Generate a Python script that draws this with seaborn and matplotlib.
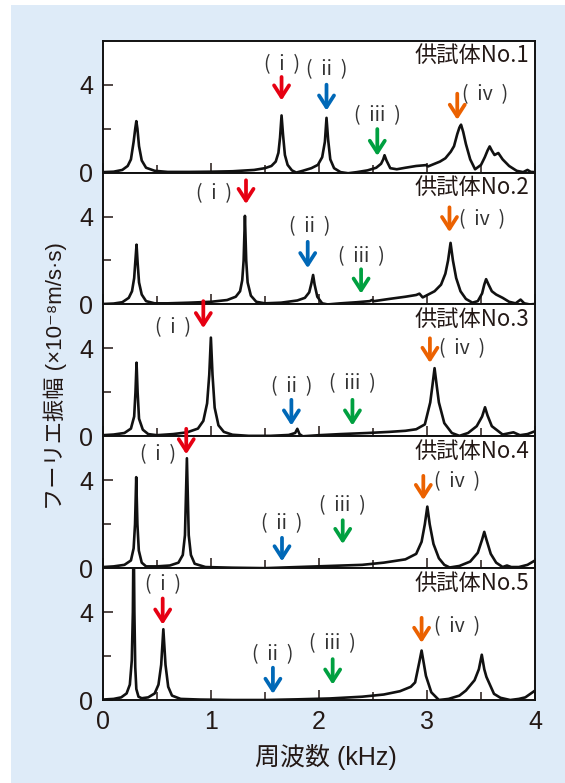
import matplotlib
matplotlib.use("Agg")
import matplotlib.pyplot as plt
from matplotlib.patches import Rectangle
import seaborn as sns
import pandas as pd

# ---------------- data ----------------
specimens = ["供試体No.1", "供試体No.2", "供試体No.3", "供試体No.4", "供試体No.5"]

f1 = [0, 0.10, 0.18, 0.23, 0.26, 0.285, 0.30, 0.31, 0.32, 0.335, 0.36, 0.40, 0.48, 0.6, 0.8, 1.0, 1.2, 1.4,
      1.5, 1.56, 1.60, 1.625, 1.64, 1.654, 1.668, 1.685, 1.71, 1.75, 1.79, 1.85, 1.93, 1.99, 2.03, 2.055, 2.07,
      2.085, 2.105, 2.14, 2.2, 2.27, 2.35, 2.45, 2.53, 2.575, 2.595, 2.607, 2.625, 2.66, 2.72, 2.8, 2.9, 2.97,
      2.99, 3.01, 3.06, 3.12, 3.17, 3.22, 3.25, 3.28, 3.30, 3.315, 3.335, 3.36, 3.40, 3.445, 3.50, 3.535, 3.56,
      3.58, 3.60, 3.625, 3.66, 3.70, 3.76, 3.83, 3.89, 3.93, 3.96, 4.0]
a1 = [0.02, 0.04, 0.12, 0.3, 0.6, 1.4, 2.0, 2.34, 2.0, 1.2, 0.55, 0.22, 0.08, 0.03, 0.03, 0.04, 0.06, 0.12,
      0.2, 0.3, 0.5, 0.9, 1.6, 2.6, 1.7, 0.8, 0.35, 0.1, 0.0, 0.08, 0.2, 0.35, 0.7, 1.4, 2.49,
      1.5, 0.6, 0.2, 0.02, -0.03, 0.02, 0.1, 0.22, 0.4, 0.6, 0.79, 0.55, 0.2, 0.15, 0.22, 0.3, 0.33,
      0.34, 0.28, 0.38, 0.5, 0.65, 0.95, 1.2, 1.75, 2.05, 2.18, 1.85, 1.3, 0.6, 0.15, 0.35, 0.7, 1.0,
      1.19, 1.0, 0.8, 0.89, 0.6, 0.3, 0.08, 0.02, 0.12, 0.03, 0.02]

f2 = [0, 0.1, 0.18, 0.24, 0.27, 0.29, 0.30, 0.312, 0.322, 0.335, 0.36, 0.40, 0.48, 0.6, 0.8, 1.0, 1.15, 1.23,
      1.27, 1.29, 1.303, 1.315, 1.327, 1.34, 1.37, 1.42, 1.5, 1.65, 1.8, 1.87, 1.91, 1.93, 1.946, 1.96, 1.985,
      2.03, 2.08, 2.2, 2.35, 2.47, 2.49, 2.51, 2.65, 2.8, 2.9, 2.93, 2.96, 3.0, 3.07, 3.13, 3.17, 3.195, 3.218,
      3.24, 3.27, 3.31, 3.36, 3.42, 3.47, 3.51, 3.53, 3.547, 3.57, 3.6, 3.64, 3.70, 3.76, 3.82, 3.866, 3.90,
      3.95, 4.0]
a2 = [0.02, 0.04, 0.1, 0.3, 0.6, 1.2, 1.9, 2.72, 1.9, 1.0, 0.45, 0.15, 0.05, 0.05, 0.08, 0.12, 0.2, 0.35,
      0.6, 1.1, 2.0, 4.03, 2.0, 1.0, 0.4, 0.12, 0.05, 0.08, 0.18, 0.3, 0.55, 0.95, 1.34, 0.9, 0.35,
      0.05, 0.0, 0.05, 0.1, 0.15, 0.2, 0.15, 0.25, 0.35, 0.43, 0.49, 0.32, 0.42, 0.6, 0.9, 1.4, 2.0, 2.8,
      2.0, 1.2, 0.6, 0.25, 0.08, 0.15, 0.5, 0.9, 1.15, 0.9, 0.6, 0.45, 0.3, 0.12, 0.05, 0.22, 0.05,
      0.0, 0.02]

f3 = [0, 0.1, 0.2, 0.26, 0.29, 0.302, 0.312, 0.322, 0.335, 0.37, 0.42, 0.5, 0.65, 0.78, 0.88, 0.93, 0.965,
      0.985, 1.0, 1.015, 1.035, 1.07, 1.12, 1.2, 1.35, 1.55, 1.72, 1.78, 1.80, 1.82, 1.85, 2.0, 2.2, 2.45, 2.65,
      2.8, 2.9, 2.98, 3.03, 3.05, 3.07, 3.09, 3.11, 3.16, 3.23, 3.3, 3.38, 3.46, 3.51, 3.537, 3.56, 3.6, 3.7,
      3.8, 3.86, 3.93, 4.0]
a3 = [0.05, 0.08, 0.15, 0.35, 0.9, 2.0, 3.35, 2.0, 0.8, 0.3, 0.1, 0.05, 0.1, 0.18, 0.35, 0.7, 1.5,
      2.8, 4.49, 2.8, 1.3, 0.5, 0.2, 0.07, 0.02, 0.02, 0.06, 0.15, 0.34, 0.1, 0.0, 0.05, 0.1, 0.15, 0.2,
      0.25, 0.32, 0.54, 1.54, 2.3, 3.1, 2.3, 1.54, 0.6, 0.15, 0.02, 0.15, 0.46, 0.9, 1.32, 0.95, 0.46, 0.08,
      0.18, 0.05, 0.1, 0.23]

f4 = [0, 0.1, 0.2, 0.26, 0.285, 0.298, 0.309, 0.32, 0.333, 0.36, 0.40, 0.5, 0.62, 0.70, 0.74, 0.76, 0.778,
      0.795, 0.815, 0.85, 0.95, 1.2, 1.5, 1.8, 2.1, 2.4, 2.6, 2.8, 2.9, 2.95, 2.98, 3.003, 3.025, 3.06, 3.11,
      3.16, 3.21, 3.3, 3.4, 3.47, 3.51, 3.53, 3.55, 3.59, 3.64, 3.70, 3.74, 3.78, 3.85, 3.93, 4.0]
a4 = [0.05, 0.08, 0.15, 0.35, 0.9, 2.0, 4.14, 2.0, 0.8, 0.25, 0.08, 0.08, 0.12, 0.25, 0.6, 1.5, 5.0,
      1.5, 0.6, 0.2, 0.05, 0.02, 0.0, 0.05, 0.1, 0.15, 0.25, 0.4, 0.65, 1.2, 2.0, 2.8, 2.0, 1.1, 0.45,
      0.15, 0.03, 0.1, 0.3, 0.7, 1.3, 1.65, 1.3, 0.65, 0.25, 0.05, 0.12, 0.05, 0.05, 0.15, 0.35]

f5 = [0, 0.1, 0.17, 0.22, 0.25, 0.268, 0.278, 0.285, 0.292, 0.30, 0.31, 0.33, 0.36, 0.42, 0.48, 0.515, 0.54,
      0.56, 0.58, 0.605, 0.64, 0.72, 0.9, 1.2, 1.5, 1.8, 2.1, 2.4, 2.6, 2.75, 2.85, 2.89, 2.93, 2.95, 2.99,
      3.04, 3.11, 3.2, 3.3, 3.36, 3.44, 3.48, 3.507, 3.53, 3.55, 3.62, 3.68, 3.77, 3.85, 3.91, 4.0]
a5 = [0.02, 0.05, 0.12, 0.3, 0.7, 1.8, 4.0, 8.0, 4.0, 1.5, 0.5, 0.15, 0.08, 0.12, 0.3, 0.7, 1.6,
      3.22, 1.6, 0.6, 0.2, 0.05, 0.02, 0.0, 0.0, 0.03, 0.07, 0.15, 0.25, 0.4, 0.6, 0.8, 1.75, 2.25, 1.1,
      0.35, 0.0, 0.05, 0.2, 0.43, 0.9, 1.4, 2.06, 1.4, 1.05, 0.28, 0.1, 0.0, 0.05, 0.12, 0.43]

freqs = [f1, f2, f3, f4, f5]
amps = [a1, a2, a3, a4, a5]

# annotation arrows: (x, arrow top, arrow bottom, label x, label y)
mode_labels = ["(  i  )", "(  ii  )", "(  iii  )", "(  iv  )"]
mode_colors = ["#e60012", "#0068b7", "#00a040", "#eb6100"]
arrows = [
    [(1.654, 4.35, 3.28, 1.654, 4.89), (2.07, 4.0, 2.82, 2.07, 4.69),
     (2.54, 1.98, 0.76, 2.54, 2.6), (3.28, 3.59, 2.4, 3.54, 3.56)],
    [(1.325, 5.65, 4.57, 1.03, 5.06), (1.896, 2.85, 1.65, 1.913, 3.52),
     (2.39, 1.6, 0.49, 2.39, 2.18), (3.208, 4.42, 3.29, 3.51, 3.88)],
    [(0.93, 6.15, 4.92, 0.65, 4.95), (1.745, 1.66, 0.49, 1.75, 2.28),
     (2.31, 1.66, 0.49, 2.31, 2.38), (3.027, 4.46, 3.34, 3.325, 3.97)],
    [(0.772, 6.34, 5.18, 0.51, 5.18), (1.658, 1.38, 0.31, 1.658, 2.03),
     (2.22, 2.18, 1.1, 2.22, 2.83), (2.966, 4.2, 3.1, 3.275, 3.95)],
    [(0.554, 4.62, 3.43, 0.554, 5.24), (1.574, 1.47, 0.28, 1.574, 2.06),
     (2.127, 1.86, 0.70, 2.127, 2.56), (2.95, 3.74, 2.6, 3.275, 3.35)],
]

# ---------------- style ----------------
sns.set_theme(style="ticks")
CJK = ["Noto Sans CJK JP", "DejaVu Sans"]
MIX = ["Liberation Sans", "Noto Sans CJK JP", "DejaVu Sans"]
plt.rcParams["font.family"] = MIX
TXT = "#231815"

fig, axes = plt.subplots(5, 1, sharex=True, figsize=(5.65, 7.83), dpi=100)
fig.patch.set_facecolor("white")
fig.patches.append(Rectangle((11 / 565, 0), 1 - 11 / 565, 1 - 5 / 783, transform=fig.transFigure,
                             facecolor="#deebf8", edgecolor="none", zorder=-10))
fig.subplots_adjust(left=0.182, right=0.947, top=0.948, bottom=0.106, hspace=0)

for i, ax in enumerate(axes):
    df = pd.DataFrame({"f": freqs[i], "a": amps[i]})
    sns.lineplot(data=df, x="f", y="a", ax=ax, color="#111111", lw=1.9, sort=False, estimator=None)
    ax.set_facecolor("white")
    ax.set_xlim(0, 4)
    ax.set_ylim(0, 6)
    ax.set_yticks([0, 4])
    ax.set_yticks([2], minor=True)
    ax.set_xticks([0, 1, 2, 3, 4])
    ax.set_xticks([0.5, 1.5, 2.5, 3.5], minor=True)
    ax.tick_params(which="major", direction="in", length=7, width=1.1, labelsize=18,
                   colors=TXT, pad=7)
    ax.tick_params(which="minor", direction="in", length=6, width=1.1, colors=TXT)
    ax.set_xlabel("")
    ax.set_ylabel("")
    for sp in ax.spines.values():
        sp.set_linewidth(1.4)
        sp.set_color("#111111")
        sp.set_visible(True)
    ax.text(0.987, 0.885, specimens[i], transform=ax.transAxes, ha="right", va="center",
            fontsize=16, family=CJK, color=TXT)
    for j, (x, yt, yb, lx, ly) in enumerate(arrows[i]):
        ax.annotate("", xy=(x, yb), xytext=(x, yt),
                    arrowprops=dict(arrowstyle="->,head_length=0.42,head_width=0.27",
                                    color=mode_colors[j], lw=2.7, shrinkA=0, shrinkB=0,
                                    mutation_scale=20),
                    annotation_clip=False, zorder=5)
        ax.text(lx, ly, mode_labels[j], ha="center", va="center", fontsize=14,
                family=CJK, color="#333333", zorder=6)

for ax in axes[:-1]:
    ax.tick_params(labelbottom=False)

fig.text(0.098, 0.52, "フーリエ振幅 (×10⁻⁸m/s·s)", rotation=90, ha="center", va="center",
         fontsize=16, family=MIX, color=TXT)
fig.text(0.577, 0.033, "周波数 (kHz)", ha="center", va="center", fontsize=18,
         family=MIX, color=TXT)

fig.savefig("out.png", dpi=100, facecolor=fig.get_facecolor())
